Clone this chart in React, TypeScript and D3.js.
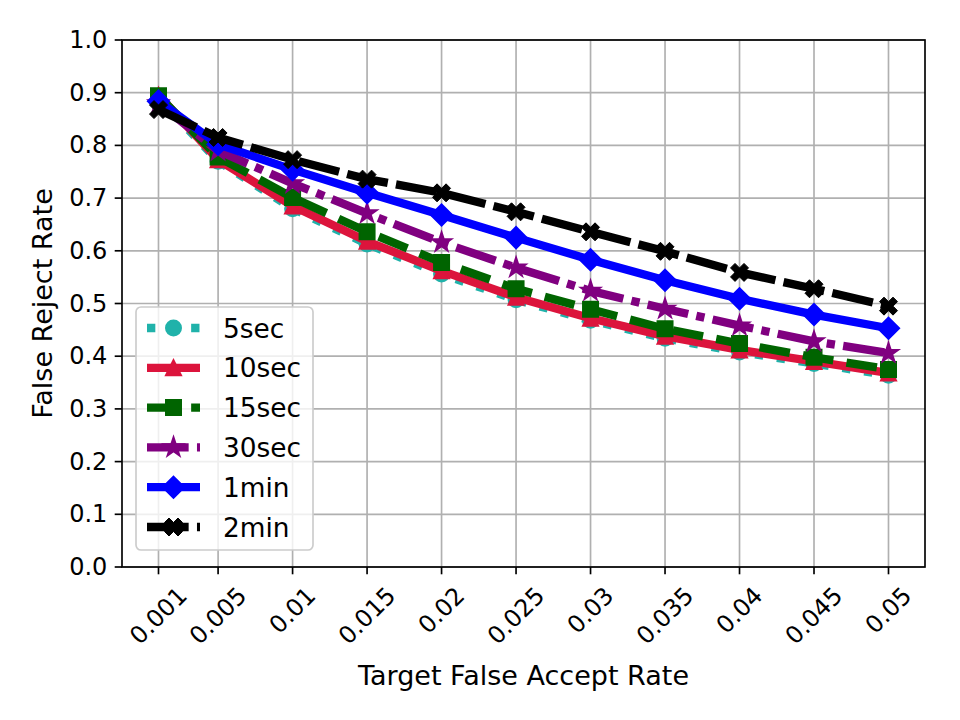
import React from "react";
import * as d3 from "d3";

const xTicks = [0.001, 0.005, 0.01, 0.015, 0.02, 0.025, 0.03, 0.035, 0.04, 0.045, 0.05];
const xTickLabels = ["0.001", "0.005", "0.01", "0.015", "0.02", "0.025", "0.03", "0.035", "0.04", "0.045", "0.05"];
const yTicks = [0, 0.1, 0.2, 0.3, 0.4, 0.5, 0.6, 0.7, 0.8, 0.9, 1.0];
const yTickLabels = ["0.0", "0.1", "0.2", "0.3", "0.4", "0.5", "0.6", "0.7", "0.8", "0.9", "1.0"];

const seriesNames = ["5sec", "10sec", "15sec", "30sec", "1min", "2min"];
const frr5sec = [0.89, 0.77, 0.68, 0.613, 0.556, 0.507, 0.468, 0.434, 0.408, 0.386, 0.364];
const frr10sec = [0.895, 0.773, 0.685, 0.618, 0.562, 0.512, 0.472, 0.438, 0.412, 0.39, 0.368];
const frr15sec = [0.894, 0.778, 0.701, 0.636, 0.578, 0.528, 0.489, 0.452, 0.424, 0.398, 0.375];
const frr30sec = [0.88, 0.79, 0.728, 0.671, 0.616, 0.568, 0.524, 0.49, 0.458, 0.428, 0.406];
const frr1min = [0.884, 0.802, 0.754, 0.71, 0.668, 0.625, 0.583, 0.544, 0.509, 0.479, 0.453];
const frr2min = [0.868, 0.815, 0.773, 0.736, 0.71, 0.674, 0.636, 0.599, 0.559, 0.528, 0.495];
const seriesValues = [frr5sec, frr10sec, frr15sec, frr30sec, frr1min, frr2min];
const seriesColors = ["#20B2AA", "#DC143C", "#006400", "#800080", "#0000FF", "#000000"];
const seriesMarkers = ["circle", "triangle", "square", "star", "diamond", "xfilled"];
const LW = 8.33;
const seriesDashes = [
  `${LW * 1} ${LW * 1.65}`,
  "none",
  `${LW * 3.7} ${LW * 1.6}`,
  `${LW * 5} ${LW * 1} ${LW * 1} ${LW * 1}`,
  "none",
  `${LW * 5} ${LW * 1}`,
];

const FONT = "DejaVu Sans, sans-serif";
const W = 944;
const H = 704;
// plot area in page coords (body has 8px margin)
const L = 122 - 8;
const R = 925 - 8;
const T = 40 - 8;
const B = 567 - 8;

function markerSize(kind: string): number {
  if (kind === "star") return 20;
  if (kind === "xfilled") return 18;
  return 15;
}
function markerStroke(kind: string): number {
  if (kind === "xfilled") return 1;
  return 2;
}

function markerPath(kind: string, ms: number): string {
  const h = ms / 2;
  if (kind === "triangle") return `M0,${-h}L${-h},${h}L${h},${h}Z`;
  if (kind === "square") return `M${-h},${-h}L${h},${-h}L${h},${h}L${-h},${h}Z`;
  if (kind === "diamond") {
    const d = h * Math.SQRT2;
    return `M0,${-d}L${d},0L0,${d}L${-d},0Z`;
  }
  if (kind === "star") {
    const pts: string[] = [];
    const ri = h * 0.381966;
    for (let i = 0; i < 10; i++) {
      const r = i % 2 === 0 ? h : ri;
      const a = (Math.PI * i) / 5;
      pts.push(`${(r * Math.sin(a)).toFixed(2)},${(-r * Math.cos(a)).toFixed(2)}`);
    }
    return "M" + pts.join("L") + "Z";
  }
  if (kind === "xfilled") {
    const v = [
      [0.25, 0], [0.5, 0.25], [0.75, 0], [1, 0.25], [0.75, 0.5], [1, 0.75],
      [0.75, 1], [0.5, 0.75], [0.25, 1], [0, 0.75], [0.25, 0.5], [0, 0.25],
    ];
    return "M" + v.map(([a, b]) => `${((a - 0.5) * ms).toFixed(2)},${((b - 0.5) * ms).toFixed(2)}`).join("L") + "Z";
  }
  return d3.arc()({ innerRadius: 0, outerRadius: h, startAngle: 0, endAngle: 2 * Math.PI }) as string;
}

function textWidth(s: string, size: number): number {
  let w = 0;
  for (const c of s) w += c === "." ? 0.318 : 0.636;
  return w * size;
}

export default function App() {
  const x = d3.scaleLinear().domain([0.001 - 0.049 * 0.05, 0.05 + 0.049 * 0.05]).range([L, R]);
  const y = d3.scaleLinear().domain([0, 1]).range([B, T]);
  const line = d3
    .line<number>()
    .x((_, i) => x(xTicks[i]))
    .y((d) => y(d));

  const tickFont = 24;
  const tickLen = 7.3;
  const pad = 7.3;
  const labelFont = 27;
  const legendFont = 26.4;

  const legX = 136 - 8;
  const legY = 307 - 8;
  const legW = 177;
  const legH = 243;
  const rowY0 = 328 - 8;
  const rowStep = 39.8;
  const hx0 = 147 - 8;
  const hx1 = 200 - 8;

  return (
    <svg width={W} height={H} style={{ display: "block" }} fontFamily={FONT}>
      <rect x={0} y={0} width={W} height={H} fill="#ffffff" />
      <g stroke="#b0b0b0" strokeWidth={1.67}>
        {xTicks.map((t, i) => (
          <line key={"gx" + i} x1={x(t)} x2={x(t)} y1={T} y2={B} />
        ))}
        {yTicks.map((t, i) => (
          <line key={"gy" + i} x1={L} x2={R} y1={y(t)} y2={y(t)} />
        ))}
      </g>
      {seriesValues.map((vals, si) => (
        <g key={"s" + si}>
          <path
            d={line(vals) as string}
            fill="none"
            stroke={seriesColors[si]}
            strokeWidth={LW}
            strokeDasharray={seriesDashes[si]}
            strokeLinejoin="round"
            strokeLinecap={seriesDashes[si] === "none" ? "square" : "butt"}
          />
          {vals.map((v, i) => (
            <path
              key={i}
              d={markerPath(seriesMarkers[si], markerSize(seriesMarkers[si]))}
              transform={`translate(${x(xTicks[i])},${y(v)})`}
              fill={seriesColors[si]}
              stroke={seriesColors[si]}
              strokeWidth={markerStroke(seriesMarkers[si])}
              strokeLinejoin="miter"
            />
          ))}
        </g>
      ))}
      <rect x={L} y={T} width={R - L} height={B - T} fill="none" stroke="#000" strokeWidth={1.67} />
      {yTicks.map((t, i) => (
        <g key={"yt" + i}>
          <line x1={L - tickLen} x2={L} y1={y(t)} y2={y(t)} stroke="#000" strokeWidth={1.67} />
          <text
            x={L - tickLen - pad}
            y={y(t)}
            textAnchor="end"
            dominantBaseline="central"
            fontSize={tickFont}
            fill="#000"
          >
            {yTickLabels[i]}
          </text>
        </g>
      ))}
      {xTicks.map((t, i) => {
        const w = textWidth(xTickLabels[i], tickFont);
        const h = tickFont * 1.164;
        const half = (w + h) / (2 * Math.SQRT2);
        const cy = B + tickLen + pad + half;
        return (
          <g key={"xt" + i}>
            <line x1={x(t)} x2={x(t)} y1={B} y2={B + tickLen} stroke="#000" strokeWidth={1.67} />
            <text
              transform={`translate(${x(t)},${cy}) rotate(-45)`}
              textAnchor="middle"
              dominantBaseline="central"
              fontSize={tickFont}
              fill="#000"
            >
              {xTickLabels[i]}
            </text>
          </g>
        );
      })}
      <text x={(L + R) / 2} y={685 - 8} textAnchor="middle" fontSize={labelFont} fill="#000">
        Target False Accept Rate
      </text>
      <text
        transform={`translate(${42 - 8},${(T + B) / 2}) rotate(-90)`}
        textAnchor="middle"
        dominantBaseline="central"
        fontSize={labelFont}
        fill="#000"
      >
        False Reject Rate
      </text>
      <rect
        x={legX}
        y={legY}
        width={legW}
        height={legH}
        rx={5}
        fill="#ffffff"
        fillOpacity={0.8}
        stroke="#cccccc"
        strokeWidth={1.67}
      />
      {seriesNames.map((name, si) => {
        const cy = rowY0 + si * rowStep;
        return (
          <g key={"lg" + si}>
            <line
              x1={hx0}
              x2={hx1}
              y1={cy}
              y2={cy}
              stroke={seriesColors[si]}
              strokeWidth={LW}
              strokeDasharray={seriesDashes[si]}
              strokeLinecap="butt"
            />
            <path
              d={markerPath(seriesMarkers[si], markerSize(seriesMarkers[si]))}
              transform={`translate(${(hx0 + hx1) / 2},${cy})`}
              fill={seriesColors[si]}
              stroke={seriesColors[si]}
              strokeWidth={markerStroke(seriesMarkers[si])}
            />
            <text x={223 - 8} y={cy} dominantBaseline="central" fontSize={legendFont} fill="#000">
              {name}
            </text>
          </g>
        );
      })}
    </svg>
  );
}
